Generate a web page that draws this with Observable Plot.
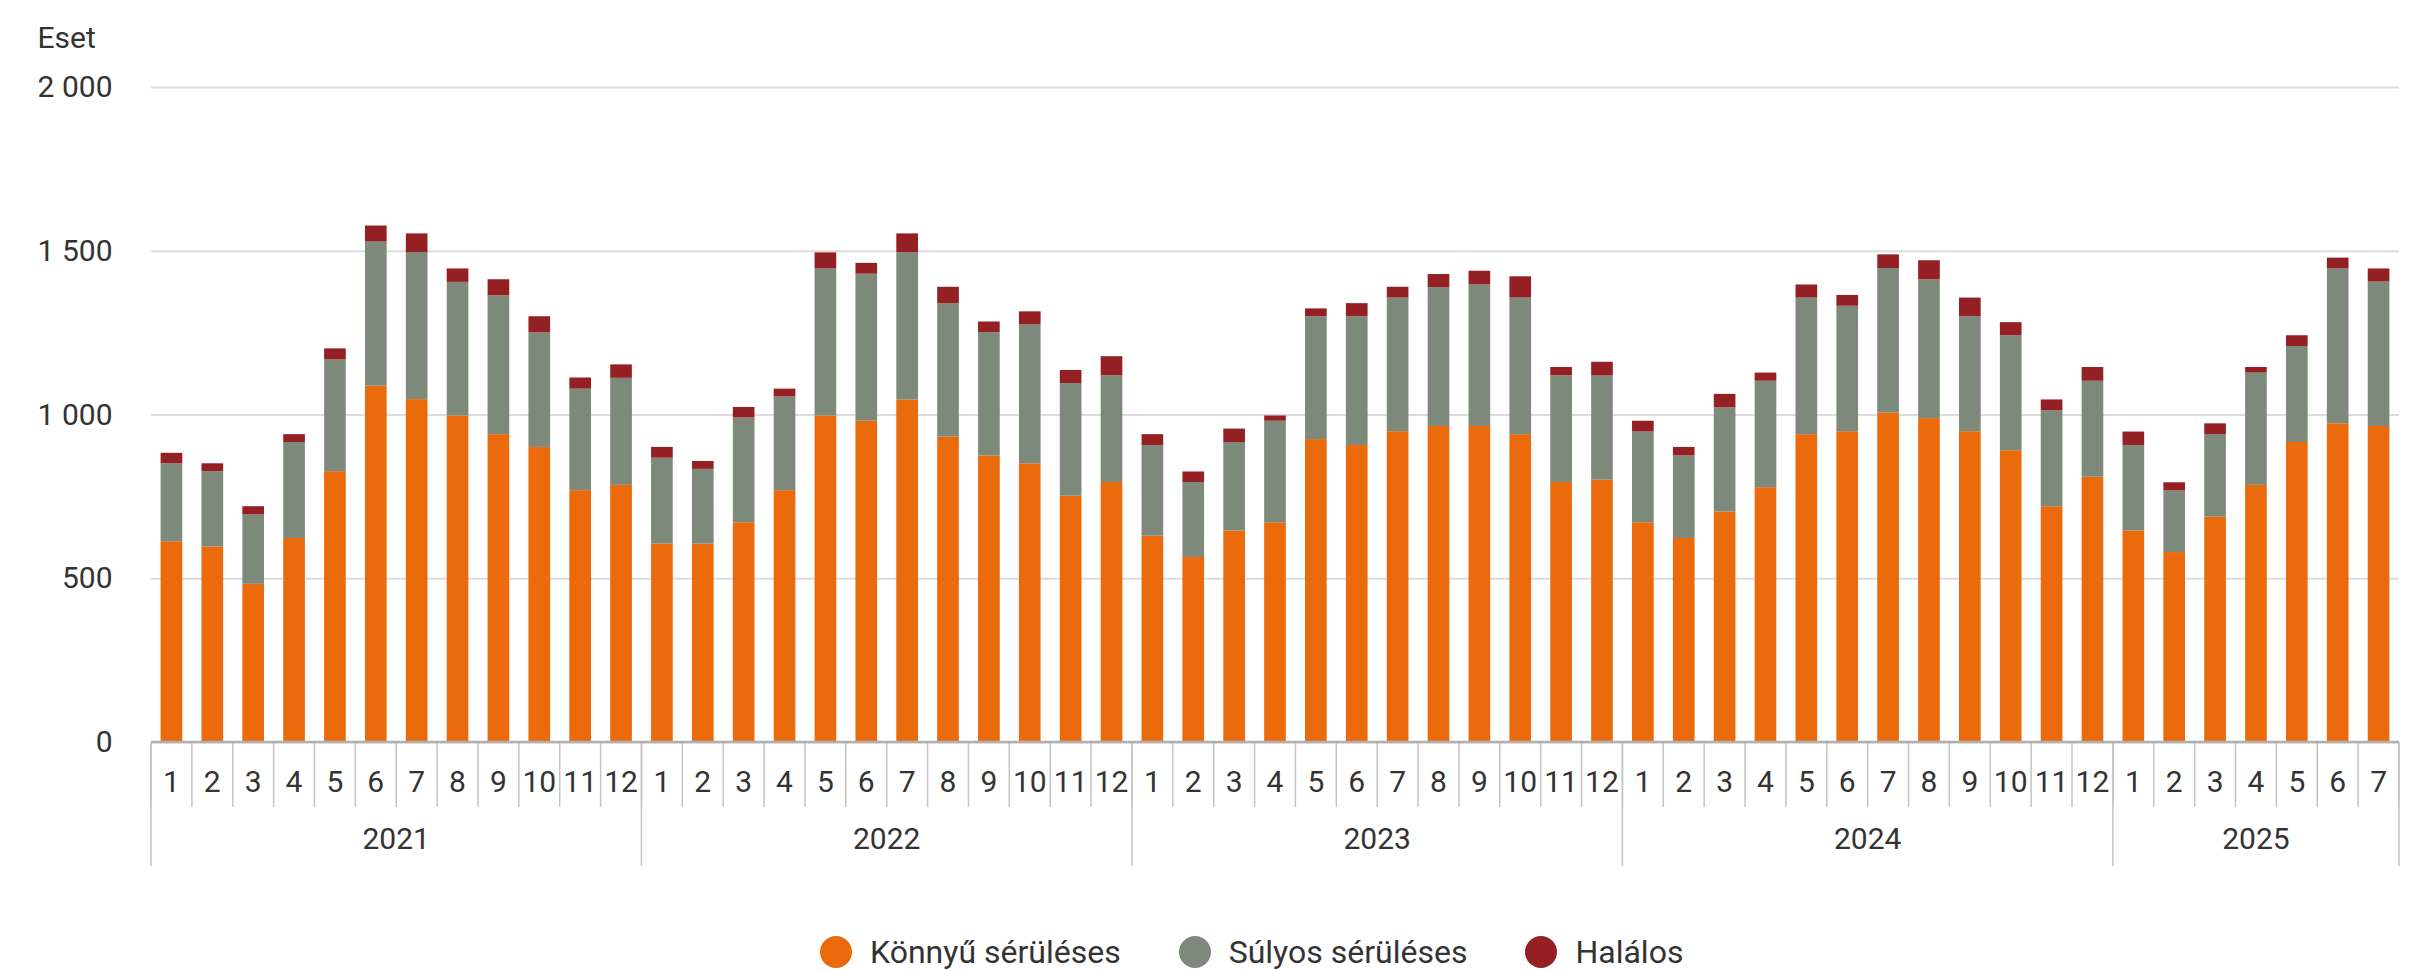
<!DOCTYPE html>
<html><head><meta charset="utf-8">
<script src="https://cdn.jsdelivr.net/npm/d3@7"></script>
<script src="https://cdn.jsdelivr.net/npm/@observablehq/plot@0.6"></script>
<style>
body{margin:0;background:#fff;font-family:Roboto,sans-serif;}
#chart{position:relative;width:2435px;height:971px;overflow:hidden;}
#legend{position:absolute;left:820px;top:933px;display:flex;align-items:center;font-size:32px;color:#333;line-height:38px;}
.item{display:flex;align-items:center;margin-right:58px;}
.sw{width:32px;height:32px;border-radius:50%;margin-right:18px;}
</style></head><body><div id="chart"></div>
<script>
const years = ["2021","2022","2023","2024","2025"];
const monthCounts = [12,12,12,12,7];
const seriesNames = ["Könnyű sérüléses","Súlyos sérüléses","Halálos"];
const seriesColors = ["#EB6A0C","#7D8A7B","#952024"];
const yTicks = [0,500,1000,1500,2000];
const yLabel = "Eset";

const konnyu = [
  613,597,483,623,827,1088,1047,997,940,901,769,785,
  606,606,671,769,997,981,1046,933,875,851,752,794,
  630,565,646,671,925,907,949,965,965,940,794,801,
  671,623,704,778,940,949,1006,989,949,891,720,810,
  646,580,688,785,916,973,965
];
const sulyos = [
  238,230,212,293,341,440,449,408,424,350,310,327,
  262,228,320,286,449,449,450,407,376,424,344,326,
  277,229,270,310,375,393,408,424,432,417,326,318,
  277,252,318,325,417,383,441,424,351,351,293,293,
  261,188,252,343,293,473,441
];
const halalos = [
  32,24,25,24,34,49,57,41,49,49,34,41,
  33,24,32,24,49,33,57,50,33,40,40,58,
  33,32,41,16,24,40,33,40,42,65,25,42,
  33,26,41,25,40,33,42,58,57,40,33,42,
  41,25,33,17,33,33,40
];

const periods = years.flatMap((y,i)=>d3.range(1,monthCounts[i]+1).map(m=>({year:y, month:m, key:`${y}-${m}`})));
const keys = periods.map(d=>d.key);
const rows = periods.flatMap((p,i)=>[konnyu[i],sulyos[i],halalos[i]].map((v,j)=>({...p, series:seriesNames[j], value:v})));

const fmt = d3.formatLocale({thousands:"\u00a0", grouping:[3], decimal:",", currency:["",""]}).format(",");

const textColor = "#333";
const FS = 30;

function twoLevelAxis(index, scales, values, dim) {
  const x = scales.x;
  const step = x(keys[1]) - x(keys[0]);
  const bw = x.bandwidth();
  const left = k => x(k) + bw/2 - step/2;
  const y0 = dim.height - dim.marginBottom;
  const g = d3.create("svg:g").attr("font-family","Roboto, sans-serif").attr("font-size",FS).attr("fill",textColor);
  const xEnd = left(keys[keys.length-1]) + step;
  g.selectAll("line.m").data([...keys.map(left), xEnd]).join("line")
    .attr("x1",d=>d).attr("x2",d=>d).attr("y1",y0).attr("y2",y0+65)
    .attr("stroke","#c4c4c4").attr("stroke-width",1.5);
  const yearStarts = years.map(y=>left(periods.find(p=>p.year===y).key));
  g.selectAll("line.y").data([...yearStarts, xEnd]).join("line")
    .attr("x1",d=>d).attr("x2",d=>d).attr("y1",y0).attr("y2",y0+124)
    .attr("stroke","#c4c4c4").attr("stroke-width",1.5);
  g.append("line").attr("x1",left(keys[0])).attr("x2",xEnd).attr("y1",y0).attr("y2",y0)
    .attr("stroke","#b0b0b0").attr("stroke-width",2.5);
  g.selectAll("text.m").data(periods).join("text")
    .attr("x",d=>x(d.key)+bw/2).attr("y",y0+39).attr("dy","0.35em")
    .attr("text-anchor","middle").text(d=>d.month);
  g.selectAll("text.y").data(years).join("text")
    .attr("x",(y)=>{ const ks = periods.filter(p=>p.year===y); return (left(ks[0].key)+left(ks[ks.length-1].key)+step)/2; })
    .attr("y",y0+96).attr("dy","0.35em").attr("text-anchor","middle").text(d=>d);
  return g.node();
}

const chart = Plot.plot({
  width: 2435, height: 900,
  marginTop: 87, marginBottom: 158, marginLeft: 151, marginRight: 36,
  style: {fontFamily: "Roboto, sans-serif", fontSize: FS + "px", color: textColor, background: "#fff"},
  x: {type: "band", domain: keys, paddingInner: 0.47, paddingOuter: 0.235, align: 0.5, axis: null},
  y: {domain: [0, 2000], axis: null},
  color: {domain: seriesNames, range: seriesColors},
  marks: [
    Plot.gridY(yTicks, {stroke: "#dcdcdc", strokeOpacity: 1, strokeWidth: 2}),
    Plot.axisY(yTicks, {tickSize: 0, tickPadding: 39, tickFormat: fmt, fontSize: FS, label: null}),
    Plot.text([yLabel], {frameAnchor: "top-left", textAnchor: "start", lineAnchor: "middle", dx: -114, dy: -49, fontSize: FS, fill: textColor}),
    Plot.barY(rows, {x: "key", y: "value", fill: "series", order: seriesNames}),
    twoLevelAxis
  ]
});
const root = document.getElementById("chart");
root.appendChild(chart);
const legend = document.createElement("div");
legend.id = "legend";
seriesNames.forEach((n,i)=>{
  const it = document.createElement("div"); it.className = "item";
  const sw = document.createElement("div"); sw.className = "sw"; sw.style.background = seriesColors[i];
  const tx = document.createElement("span"); tx.textContent = n;
  it.appendChild(sw); it.appendChild(tx); legend.appendChild(it);
});
root.appendChild(legend);
</script></body></html>
